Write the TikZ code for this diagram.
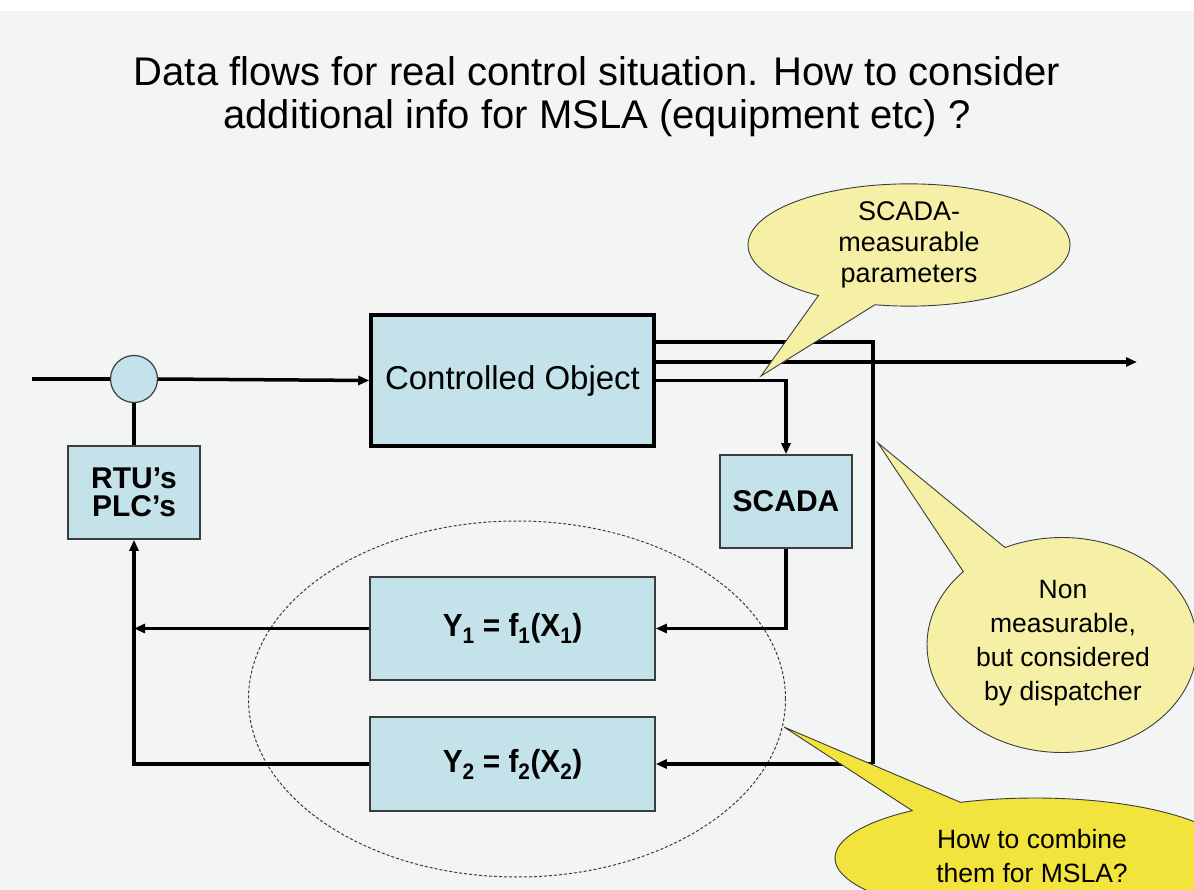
\documentclass[tikz,border=0pt]{standalone}
\usepackage{fontspec}
\setmainfont{Liberation Sans}
\usetikzlibrary{arrows.meta,shapes.geometric,shapes.callouts,calc}
\definecolor{bg}{RGB}{243,244,244}
\definecolor{boxblue}{RGB}{195,226,233}
\definecolor{paleyel}{RGB}{245,240,165}
\definecolor{brightyel}{RGB}{242,228,60}
\definecolor{edgegray}{RGB}{60,60,60}
\begin{document}
\begin{tikzpicture}[x=1pt,y=-1pt,
  conn/.style={line width=3.5pt},
  arr/.style={-{Triangle[length=11pt,width=9pt]}},
  bluebox/.style={rectangle, draw=edgegray, line width=1.6pt, fill=boxblue, inner sep=0pt,
     font=\bfseries\fontsize{30}{28}\selectfont, align=center},
  bigbox/.style={rectangle, draw=black, line width=3.5pt, fill=boxblue, inner sep=0pt,
     font=\fontsize{33}{38}\selectfont},
  bubble/.style={ellipse callout, draw=edgegray, line width=0.9pt, inner sep=0pt, align=center,
     font=\fontsize{27}{31}\selectfont, callout pointer arc=22},
  btext/.style={align=center, font=\fontsize{26.5}{34}\selectfont, inner sep=0pt},
  ftext/.style={font=\bfseries\fontsize{32}{36}\selectfont}
]
\useasboundingbox (0,0) rectangle (1194,890);
\clip (0,0) rectangle (1194,890);
\fill[bg] (0,0) rectangle (1194,890);
\fill[white] (0,0) rectangle (1194,11);

% title
\node[align=center, font=\fontsize{40}{43}\selectfont] (title) at (597,97)
  {Data flows for real control situation. How to consider\\additional info for MSLA (equipment etc) ?};

% dashed grouping ellipse
\node[ellipse, draw=edgegray, dashed, dash pattern=on 3pt off 2pt, line width=1pt,
  minimum width=537, minimum height=356] (group) at (517,699) {};

% blocks
\node[circle, draw=edgegray, line width=1.2pt, fill=boxblue, minimum size=47, inner sep=0pt] (sum) at (134,379) {};
\node[bigbox, minimum width=283, minimum height=131] (co) at (512.5,380.5) {Controlled Object};
\node[bluebox, minimum width=132, minimum height=93] (rtu) at (134,492.5) {RTU’s\\PLC’s};
\node[bluebox, minimum width=132, minimum height=93] (scada) at (786,501.5) {SCADA};
\node[bluebox, minimum width=285, minimum height=103] (y1) at (512.5,628.5)
  {\scalebox{0.93}[1]{\fontsize{32}{36}\selectfont Y\textsubscript{1} = f\textsubscript{1}(X\textsubscript{1})}};
\node[bluebox, minimum width=285, minimum height=94] (y2) at (512.5,764)
  {\scalebox{0.93}[1]{\fontsize{32}{36}\selectfont Y\textsubscript{2} = f\textsubscript{2}(X\textsubscript{2})}};

% coordinates for free ends / bends
\coordinate (in) at (32,379);
\coordinate (o1) at (654,342);
\coordinate (o2) at (654,362);
\coordinate (out) at (1137,362);
\coordinate (rv) at (873,764);

% connectors
\draw[conn] (in) -- (sum.west);
\draw[conn,arr] (sum.east) -- (co.west);
\draw[conn] (sum.south) -- (rtu.north);
\draw[conn,arr] (o2) -- (out);
\draw[conn] (o1) -| (rv);
\draw[conn,arr] (rv) -- (y2.east);
\draw[conn,arr] (co.east) -| (scada.north);
\draw[conn,arr] (scada.south) |- (y1.east);
\draw[conn,arr] (y1.west) -- (y1.west -| rtu.south);
\draw[conn,arr] (y2.west) -| (rtu.south);

% callouts
\node[bubble, fill=paleyel, minimum width=322, minimum height=120,
  callout absolute pointer={(761,376)}] (c1) at (909,245) {SCADA-\\measurable\\parameters};
\node[bubble, fill=paleyel, minimum width=270, minimum height=215,
  callout absolute pointer={(878,443)}] (c2) at (1062,645) {};
\node[btext] (c2t) at (1063,643) {Non\\measurable,\\but considered\\by dispatcher};
\node[bubble, fill=brightyel, minimum width=400, minimum height=120, callout pointer arc=16,
  callout absolute pointer={(784,727)}] (c3) at (1035,858) {};
\node[btext] (c3t) at (1032,856) {How to combine\\them for MSLA?};
\end{tikzpicture}
\end{document}
